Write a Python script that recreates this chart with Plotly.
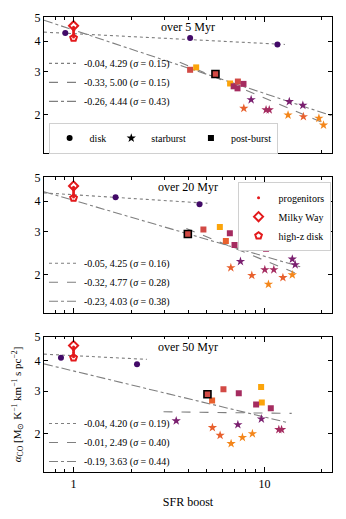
import numpy as np
import plotly.graph_objects as go

# colours (inferno-like)
C_DISK = "#420a68"
C_PUR = "#7a1f6f"
C_MAG = "#a52c60"
C_RED = "#d24a45"
C_RO = "#e8602d"
C_OR = "#f4861a"
C_YEL = "#fba40a"
C_OBS = "#e31a1c"
GREY = "#7f7f7f"

titles = ["over 5 Myr", "over 20 Myr", "over 50 Myr"]

# ---- panel 1 (5 Myr)
disk1_x = [0.905, 4.08, 11.7]
disk1_y = [4.32, 4.12, 3.87]
sb1_x = [8.52, 7.80, 10.2, 10.6, 13.3, 13.5, 15.9, 16.0, 19.3, 20.4]
sb1_y = [2.30, 2.12, 2.09, 2.09, 1.99, 2.26, 2.18, 1.96, 1.93, 1.81]
sb1_c = [C_PUR, C_RO, C_MAG, C_MAG, C_OR, C_PUR, C_PUR, C_RO, C_OR, C_OR]
pb1_x = [4.08, 4.39, 6.61, 6.90, 7.26, 7.23, 7.77]
pb1_y = [3.05, 3.12, 2.68, 2.61, 2.73, 2.56, 2.67]
pb1_c = [C_RED, C_YEL, C_YEL, C_MAG, C_RED, C_MAG, C_MAG]
ref1 = (5.54, 2.93)

# ---- panel 2 (20 Myr)
disk2_x = [1.66, 4.57]
disk2_y = [4.15, 3.88]
sb2_x = [7.49, 6.67, 8.59, 10.05, 11.2, 10.5, 12.5, 14.0, 14.0, 14.5]
sb2_y = [2.26, 2.13, 1.98, 2.09, 2.09, 1.82, 1.94, 1.99, 2.31, 2.19]
sb2_c = [C_PUR, C_RO, C_RO, C_MAG, C_MAG, C_OR, C_RO, C_OR, C_PUR, C_PUR]
pb2_x = [4.79, 5.84, 6.59, 6.28, 6.97, 7.67, 10.2, 11.5]
pb2_y = [3.06, 3.13, 2.95, 2.74, 2.64, 2.68, 2.55, 2.69]
pb2_c = [C_RED, C_YEL, C_MAG, C_RO, C_MAG, C_MAG, C_MAG, C_YEL]
ref2 = (3.97, 2.93)

# ---- panel 3 (50 Myr)
disk3_x = [0.859, 2.15]
disk3_y = [4.12, 3.87]
sb3_x = [3.45, 5.34, 5.86, 6.69, 7.26, 7.67, 8.65, 9.64, 11.9, 12.3]
sb3_y = [2.26, 2.12, 1.97, 1.82, 2.18, 1.93, 2.00, 2.30, 2.08, 2.08]
sb3_c = [C_PUR, C_RO, C_RO, C_OR, C_PUR, C_OR, C_OR, C_PUR, C_MAG, C_MAG]
pb3_x = [6.10, 7.34, 5.32, 9.61, 9.69, 9.05, 10.8]
pb3_y = [3.05, 2.94, 2.74, 3.12, 2.69, 2.64, 2.55]
pb3_c = [C_RED, C_MAG, C_RO, C_YEL, C_YEL, C_MAG, C_MAG]
ref3 = (5.03, 2.91)

# observed references (same in every panel)
mw_x, mw_y = [1.0], [4.62]
hz_x, hz_y = [1.0], [4.12]
prog_x = [1.0, 1.0, 1.0, 1.0, 1.0, 1.0]
prog_y = [4.16, 4.24, 4.32, 4.40, 4.48, 4.56]

# fits: slope, norm, sigma, x-range   (dotted / dashed / dash-dot)
fits = [
    [(-0.04, 4.29, 0.15, 0.7, 12.8), (-0.33, 5.00, 0.15, 3.6, 20.8), (-0.26, 4.44, 0.43, 0.7, 22.6)],
    [(-0.05, 4.25, 0.16, 0.7, 5.03), (-0.32, 4.77, 0.28, 3.9, 15.7), (-0.23, 4.03, 0.38, 0.7, 15.7)],
    [(-0.04, 4.20, 0.19, 0.7, 2.42), (-0.01, 2.49, 0.40, 2.96, 13.9), (-0.19, 3.63, 0.44, 0.7, 13.2)],
]
dashes = ["dot", "dash", "dashdot"]

panels = [
    (disk1_x, disk1_y, sb1_x, sb1_y, sb1_c, pb1_x, pb1_y, pb1_c, ref1),
    (disk2_x, disk2_y, sb2_x, sb2_y, sb2_c, pb2_x, pb2_y, pb2_c, ref2),
    (disk3_x, disk3_y, sb3_x, sb3_y, sb3_c, pb3_x, pb3_y, pb3_c, ref3),
]

FONT = "Liberation Serif, Times New Roman, serif"
fig = go.Figure()

for i, (dx, dy, sx, sy, sc, px, py, pc, ref) in enumerate(panels):
    n = "" if i == 0 else str(i + 1)
    xa, ya = "x" + n, "y" + n
    lg = "legend" + str(i + 3)
    for (a, b, s, x0, x1), d in zip(fits[i], dashes):
        xs = np.array([x0, x1])
        fig.add_trace(go.Scatter(
            x=xs, y=b * xs ** a, mode="lines", xaxis=xa, yaxis=ya,
            line=dict(color=GREY, width=1.1, dash=d), legend=lg,
            name=f"{a:.2f}, {b:.2f} (<i>σ</i> = {s:.2f})"))
    fig.add_trace(go.Scatter(x=prog_x, y=prog_y, mode="lines+markers", xaxis=xa, yaxis=ya,
                             line=dict(color=C_OBS, width=1.2),
                             marker=dict(color=C_OBS, size=3), showlegend=False))
    fig.add_trace(go.Scatter(x=mw_x, y=mw_y, mode="markers", xaxis=xa, yaxis=ya, showlegend=False,
                             marker=dict(symbol="diamond-open", size=7, color=C_OBS, line=dict(width=2))))
    fig.add_trace(go.Scatter(x=hz_x, y=hz_y, mode="markers", xaxis=xa, yaxis=ya, showlegend=False,
                             marker=dict(symbol="pentagon-open", size=7, color=C_OBS, line=dict(width=2))))
    fig.add_trace(go.Scatter(x=dx, y=dy, mode="markers", xaxis=xa, yaxis=ya, showlegend=False,
                             marker=dict(symbol="circle", size=6, color=C_DISK)))
    fig.add_trace(go.Scatter(x=sx, y=sy, mode="markers", xaxis=xa, yaxis=ya, showlegend=False,
                             marker=dict(symbol="star", size=7, color=sc, line=dict(width=0))))
    fig.add_trace(go.Scatter(x=px, y=py, mode="markers", xaxis=xa, yaxis=ya, showlegend=False,
                             marker=dict(symbol="square", size=6, color=pc, line=dict(width=0))))
    fig.add_trace(go.Scatter(x=[ref[0]], y=[ref[1]], mode="markers", xaxis=xa, yaxis=ya, showlegend=False,
                             marker=dict(symbol="square", size=7, color=C_RED,
                                         line=dict(width=1.6, color="black"))))

# legend entries: simulation types (black) and observations (red)
for name, sym, sz in [("disk", "circle", 6), ("starburst", "star", 7), ("post-burst", "square", 6)]:
    fig.add_trace(go.Scatter(x=[None], y=[None], mode="markers", name=name, legend="legend",
                             marker=dict(symbol=sym, size=sz, color="black")))
for name, sym, sz, w in [("progenitors", "circle", 3, 0), ("Milky Way", "diamond-open", 7, 2),
                         ("high-z disk", "pentagon-open", 7, 2)]:
    fig.add_trace(go.Scatter(x=[None], y=[None], mode="markers", name=name, legend="legend2",
                             xaxis="x2", yaxis="y2",
                             marker=dict(symbol=sym, size=sz, color=C_OBS, line=dict(width=w))))

domains = [[0.701, 1.0], [0.35, 0.648], [0.0, 0.297]]
axis_common = dict(showline=True, linecolor="black", linewidth=1.2, mirror="ticks",
                   ticks="inside", tickcolor="black", showgrid=False, zeroline=False,
                   automargin=False)
# the page body adds an 8 px offset, so the figure is 8 px smaller than the window
lay = dict(width=338, height=511, margin=dict(l=36, r=14, t=9, b=47),
           plot_bgcolor="white", paper_bgcolor="white",
           font=dict(family=FONT, size=12, color="black"))
for i in range(3):
    n = "" if i == 0 else str(i + 1)
    lay["xaxis" + n] = dict(axis_common, type="log", range=[np.log10(0.7), np.log10(22.6)],
                            anchor="y" + n, matches=None if i == 0 else "x",
                            tickvals=[1, 10], ticktext=["1", "10"], ticklen=5, tickwidth=1,
                            showticklabels=(i == 2),
                            minor=dict(ticks="inside", ticklen=2.5, tickcolor="black",
                                       tickvals=[0.8, 0.9, 2, 3, 4, 5, 6, 7, 8, 9, 20]),
                            tickfont=dict(size=12))
    lay["yaxis" + n] = dict(axis_common, type="log", domain=domains[i], anchor="x" + n,
                            range=[np.log10(1.39), np.log10(5.02)],
                            tickvals=[2, 3, 4, 5], ticktext=["2", "3", "4", "5"],
                            ticklen=4, tickwidth=1, tickfont=dict(size=12))
lay["xaxis3"]["title"] = dict(text="SFR boost", font=dict(size=12), standoff=8)
lay["yaxis3"]["title"] = dict(
    text="<i>α</i><sub>CO</sub> [M<sub>⊙</sub> K<sup>−1</sup> km<sup>−1</sup> s pc<sup>−2</sup>]",
    font=dict(size=11), standoff=10)

lay["legend"] = dict(orientation="h", x=0.016, y=0.768, xanchor="left", yanchor="top",
                     bordercolor="#d0d0d0", borderwidth=1, bgcolor="white",
                     font=dict(size=10), itemwidth=30)
lay["legend2"] = dict(x=0.995, y=0.637, xanchor="right", yanchor="top",
                      bordercolor="#d0d0d0", borderwidth=1, bgcolor="white",
                      font=dict(size=10), itemwidth=30)
for i, ytop in enumerate([0.93, 0.4906, 0.1384]):
    lay["legend" + str(i + 3)] = dict(x=0.0, y=ytop, xanchor="left", yanchor="top",
                                      bgcolor="rgba(0,0,0,0)", borderwidth=0,
                                      font=dict(size=10), itemwidth=30, tracegroupgap=0)

ann = []
for i, t in enumerate(titles):
    n = "" if i == 0 else str(i + 1)
    ann.append(dict(text=t, xref="x" + n + " domain", yref="y" + n + " domain", x=0.5, y=1,
                    yanchor="middle", yshift=-10, showarrow=False, font=dict(size=12)))
lay["annotations"] = ann
fig.update_layout(**lay)

fig.write_html("out.html")
